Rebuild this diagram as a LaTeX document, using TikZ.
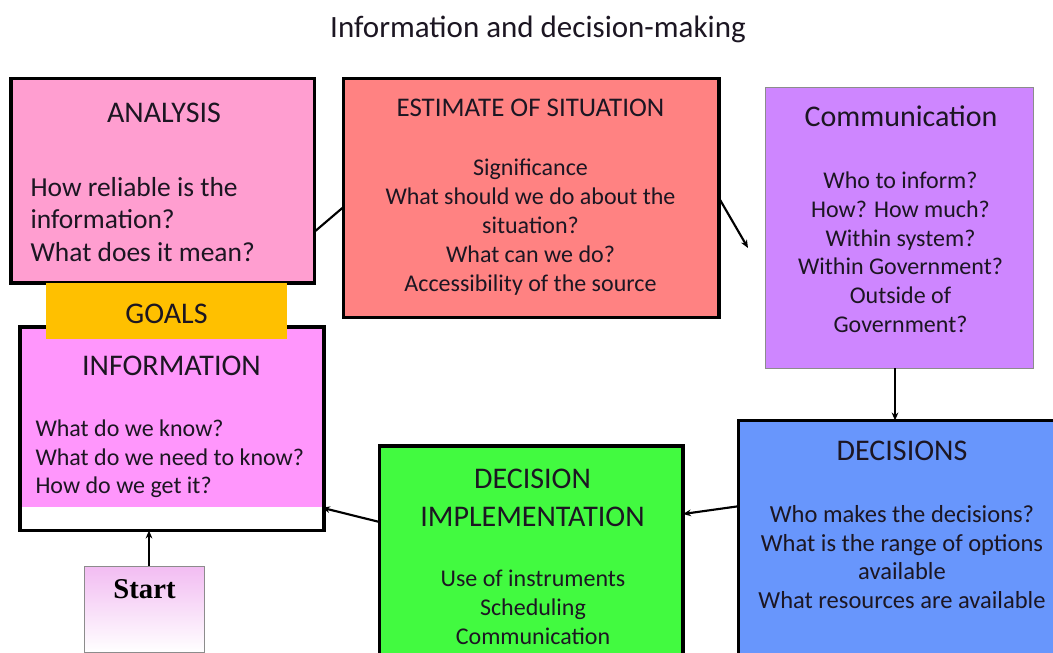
\documentclass[tikz,border=0pt]{standalone}
\usepackage{fontspec}
\setmainfont{Carlito}
\newfontfamily\startfont{Liberation Serif}
\usepackage{tikz}
\usetikzlibrary{arrows.meta,calc}
\tikzset{every picture/.style={line width=0.75pt}}

\definecolor{analysispink}{RGB}{255,158,208}
\definecolor{estimatered}{RGB}{255,130,130}
\definecolor{commviolet}{RGB}{206,134,255}
\definecolor{goalsyellow}{RGB}{255,192,0}
\definecolor{infopink}{RGB}{255,150,252}
\definecolor{startpink}{RGB}{242,188,242}
\definecolor{implgreen}{RGB}{66,250,64}
\definecolor{decblue}{RGB}{104,150,252}
\definecolor{textdark}{RGB}{28,22,34}

\tikzset{
  box/.style={draw=black, line width=2.6pt, inner sep=0pt, outer sep=0pt, anchor=north west},
  thinbox/.style={draw={rgb,255:red,140;green,140;blue,140}, line width=0.75pt, inner sep=0pt, outer sep=0pt, anchor=north west},
  head/.style={font=\fontsize{22.5}{28.3}\selectfont, text=textdark, anchor=base, align=center, inner sep=0pt},
  body/.style={font=\fontsize{18}{21.5}\selectfont, text=textdark, anchor=base, align=center, inner sep=0pt},
  conn/.style={line width=1.6pt},
  arr/.style={conn, -{Stealth[length=6pt,width=5pt]}}
}

\begin{document}
\begin{tikzpicture}[x=0.75pt,y=0.75pt,yscale=-1,xscale=1]
    \clip (0,0) rectangle (1053,653);
    
    % Text Node
    \node [head, font=\fontsize{23.25}{28}\selectfont] (title) at (538,37) {Information and decision-making};
    
    %Shape: Rectangle
    \node [box, fill=analysispink, minimum width=227.6pt, minimum height=153.4pt] (analysis) at (11,78.5) {};
    %Shape: Rectangle
    \node [box, fill=estimatered, minimum width=281.6pt, minimum height=179.25pt] (estimate) at (343.5,78.5) {};
    %Shape: Rectangle
    \node [thinbox, fill=commviolet, minimum width=201pt, minimum height=210.75pt] (comm) at (765.5,87) {};
    %Shape: Rectangle
    \node [box, fill=white, minimum width=228pt, minimum height=152.6pt] (info) at (20,327) {};
    \fill [infopink] ($(info.north west)+(1.75,1.75)$) rectangle ($(info.south east)+(-1.75,-23)$);
    %Shape: Rectangle
    \node [anchor=north west, inner sep=0pt, outer sep=0pt, fill=goalsyellow, minimum width=181pt, minimum height=42.2pt] (goals) at (46,283) {};
    %Shape: Rectangle
    \node [thinbox, top color=startpink, bottom color=white, minimum width=90pt, minimum height=64.5pt] (start) at (84.5,566) {};
    %Shape: Rectangle
    \node [box, fill=implgreen, minimum width=227.6pt, minimum height=190.5pt] (impl) at (379.5,446) {};
    %Shape: Rectangle
    \node [box, fill=decblue, minimum width=256.1pt, minimum height=209.6pt] (decisions) at (738.5,420.5) {};
    
    % Text Node
    \node [head] (analysisT) at (164,122.7) {ANALYSIS};
    \node [body, font=\fontsize{20.6}{24.6}\selectfont, align=left, anchor=base west] (analysisB) at (30,261.7) {How reliable is the\\information?\\What does it mean?};
    % Text Node
    \node [head, font=\fontsize{20.2}{24}\selectfont] (estimateT) at (530.5,116) {ESTIMATE OF SITUATION};
    \node [body, font=\fontsize{18}{21.75}\selectfont] (estimateB) at (530.5,291) {Significance\\What should we do about the\\situation?\\What can we do?\\Accessibility of the source};
    % Text Node
    \node [head] (commT) at (901,126) {Communication};
    \node [body] (commB) at (900.5,332.3) {Who to inform?\\How? How much?\\Within system?\\Within Government?\\Outside of\\Government?};
    % Text Node
    \node [head] (goalsT) at (166.5,323.3) {GOALS};
    % Text Node
    \node [head] (infoT) at (171.5,375) {INFORMATION};
    \node [body, font=\fontsize{18}{21.2}\selectfont, align=left, anchor=base west] (infoB) at (35,493.3) {What do we know?\\What do we need to know?\\How do we get it?};
    % Text Node
    \node [anchor=base, inner sep=0pt, font=\startfont\bfseries\fontsize{21.5}{26}\selectfont] (startT) at (144.5,598) {Start};
    % Text Node
    \node [head] (implT) at (532.5,526) {DECISION\\IMPLEMENTATION};
    \node [body] (implB) at (533,644) {Use of instruments\\Scheduling\\Communication};
    % Text Node
    \node [head] (decisionsT) at (902,460) {DECISIONS};
    \node [body, font=\fontsize{18.4}{21.4}\selectfont] (decisionsB) at (902,608.3) {Who makes the decisions?\\What is the range of options\\available\\What resources are available};
    
    %Straight Lines
    \draw [conn] ($(analysis.east)+(0,51)$) -- ($(estimate.west)+(0,9)$);
    %Straight Lines
    \coordinate (commin) at (748,248);
    \draw [arr] (estimate.east) -- (commin);
    %Straight Lines
    \coordinate (commout) at ($(comm.south)+(-4.5,0)$);
    \draw [arr] (commout) -- (commout |- decisions.north);
    %Straight Lines
    \draw [arr] ($(decisions.west)+(0,-54)$) -- ($(impl.east)+(0,-59)$);
    %Straight Lines
    \draw [arr] ($(impl.west)+(0,-51)$) -- ($(info.east)+(-2,79)$);
    %Straight Lines
    \coordinate (startout) at ($(start.north)+(4.5,0)$);
    \draw [arr] (startout) -- (startout |- info.south);
    
\end{tikzpicture}
\end{document}
